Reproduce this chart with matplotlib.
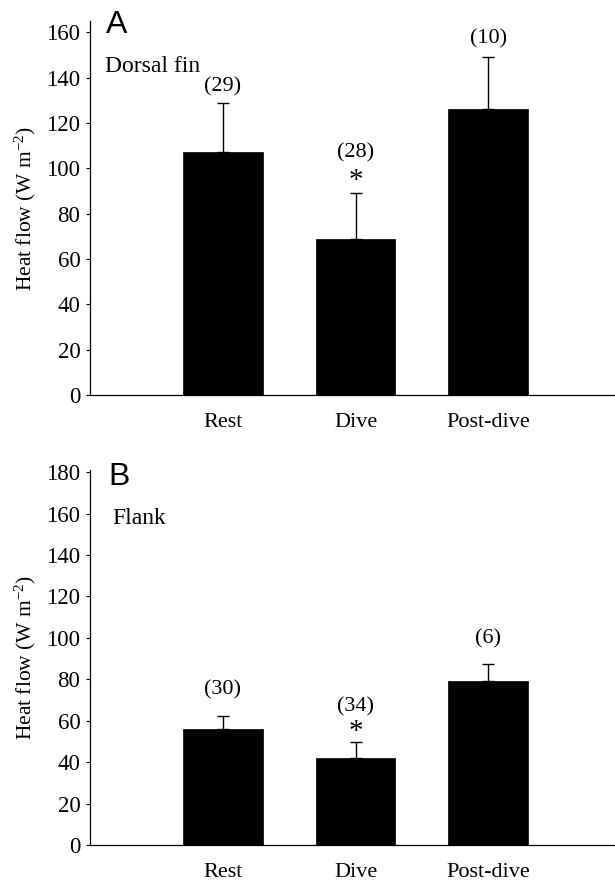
import matplotlib
matplotlib.use("Agg")
import matplotlib.pyplot as plt
import numpy as np

categories = ["Rest", "Dive", "Post-dive"]

dorsal_mean = [107, 69, 126]
dorsal_sd = [22, 20, 23]
dorsal_n = ["(29)", "(28)", "(10)"]
dorsal_sig = ["", "*", ""]

flank_mean = [56, 42, 79]
flank_sd = [6.5, 7.5, 8.5]
flank_n = ["(30)", "(34)", "(6)"]
flank_sig = ["", "*", ""]

yticks_a = [0, 20, 40, 60, 80, 100, 120, 140, 160]
yticks_b = [0, 20, 40, 60, 80, 100, 120, 140, 160, 180]

serif = ["Liberation Serif", "DejaVu Serif"]
plt.rcParams['font.family'] = serif
plt.rcParams['mathtext.fontset'] = 'custom'
plt.rcParams['mathtext.rm'] = 'Liberation Serif'
plt.rcParams['mathtext.it'] = 'Liberation Serif:italic'

W, H = 615, 882
fig = plt.figure(figsize=(W / 100, H / 100), dpi=100)

def px_axes(left, top, right, bottom):
    return fig.add_axes([left / W, 1 - bottom / H, (right - left) / W, (bottom - top) / H])

def panel(ax, means, sds, ns, sigs, yticks, ylim, n_off, star_off):
    x = np.arange(len(categories))
    ax.bar(x, means, width=0.6, color="black", edgecolor="black", linewidth=0.5, zorder=2)
    ax.errorbar(x, means, yerr=[np.zeros(len(sds)), sds], fmt="none", ecolor="black",
                elinewidth=1.0, capsize=4, capthick=1.0, zorder=1)
    ax.set_xlim(-1, 3.03)
    ax.set_ylim(*ylim)
    ax.set_yticks(yticks)
    ax.set_yticklabels([str(t) for t in yticks], fontsize=16.5)
    ax.set_xticks(x)
    ax.set_xticklabels(categories, fontsize=16)
    ax.tick_params(axis="x", length=0, pad=13)
    ax.tick_params(axis="y", length=3, width=0.8, pad=4, direction="out")
    for s in ["top", "right"]:
        ax.spines[s].set_visible(False)
    ax.spines["left"].set_linewidth(0.9)
    ax.spines["bottom"].set_linewidth(0.9)
    ax.set_ylabel("Heat flow (W m$^{\\mathregular{-2}}$)", fontsize=15.5, labelpad=6)
    for i in range(len(categories)):
        top = means[i] + sds[i]
        if sigs[i]:
            ax.annotate(sigs[i], xy=(i, top), xytext=(0, star_off[i]), textcoords="offset pixels",
                        ha="center", va="center", fontsize=21)
        ax.annotate(ns[i], xy=(i, top), xytext=(0, n_off[i]), textcoords="offset pixels",
                    ha="center", va="center", fontsize=16)
    return ax

sans = ["Liberation Sans", "DejaVu Sans"]

axA = px_axes(90, 21, 625, 395)
panel(axA, dorsal_mean, dorsal_sd, dorsal_n, dorsal_sig, yticks_a, (0, 165),
      [16, 40, 18], [0, 12, 0])
fig.text(106 / W, 1 - 33 / H, "A", fontsize=23, family=sans, ha="left", va="baseline")
fig.text(105 / W, 1 - 72 / H, "Dorsal fin", fontsize=17, ha="left", va="baseline")

axB = px_axes(90, 470, 625, 845)
panel(axB, flank_mean, flank_sd, flank_n, flank_sig, yticks_b, (0, 181),
      [26, 36, 25], [0, 10, 0])
fig.text(108 / W, 1 - 485 / H, "B", fontsize=23, family=sans, ha="left", va="baseline")
fig.text(112 / W, 1 - 524 / H, "Flank", fontsize=17, ha="left", va="baseline")

fig.savefig("out.png", dpi=100)
